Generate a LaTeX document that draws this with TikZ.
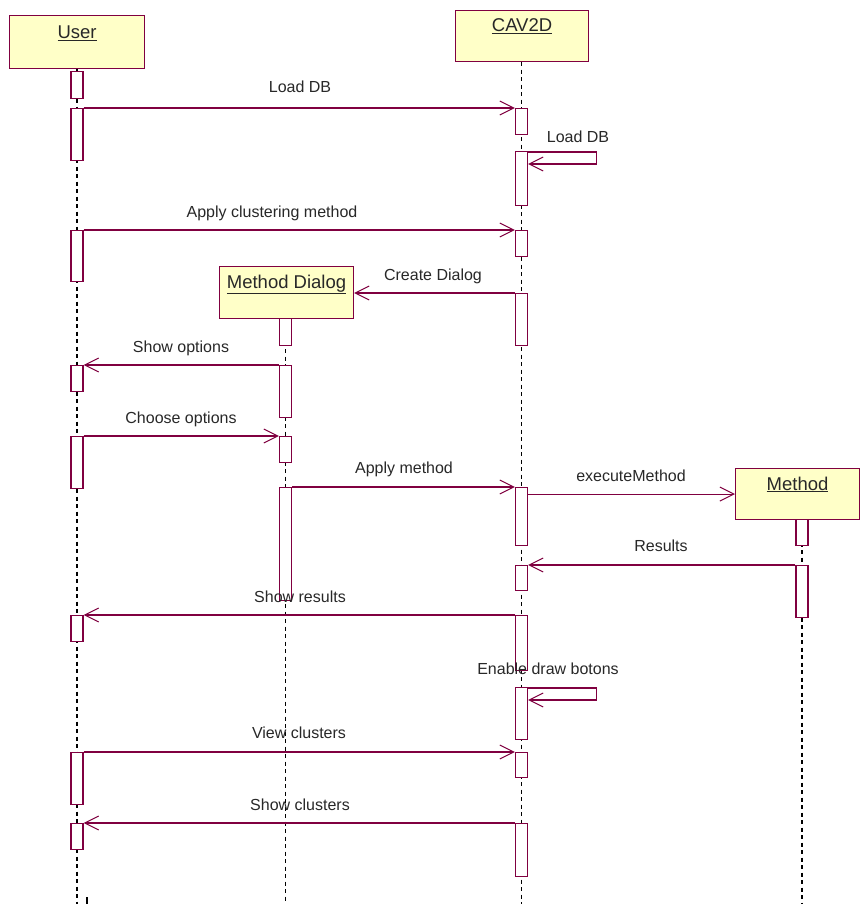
\documentclass[tikz,border=0pt]{standalone}
\usepackage{fontspec}
\setmainfont{Liberation Sans}
\usetikzlibrary{arrows.meta}
\definecolor{umlline}{RGB}{128,0,64}
\definecolor{umlfill}{RGB}{255,255,200}
\definecolor{umltext}{RGB}{40,40,40}
\begin{document}
\begin{tikzpicture}[x=1pt,y=-1pt,
  obj/.style={draw=umlline, fill=umlfill, line width=1.1pt, anchor=north west, inner sep=0pt},
  objlabel/.style={anchor=base, text=umltext, font=\fontsize{18.5}{22}\selectfont, inner sep=0pt},
  act/.style={draw=umlline, fill=white, line width=1.1pt, anchor=north, minimum width=12, inner sep=0pt},
  life/.style={draw=black, line width=1.4pt, dash pattern=on 4pt off 3.5pt},
  msg/.style={draw=umlline, line width=1.1pt, -{Straight Barb[length=14pt,width=14pt,line width=1pt]}},
  lbl/.style={anchor=base, text=umltext, font=\fontsize{16}{19}\selectfont, inner sep=0pt}
]
\useasboundingbox[fill=white] (0,0) rectangle (860,904);

% objects
\node[obj, minimum width=135, minimum height=53] (user) at (9,15) {};
\node[obj, minimum width=133, minimum height=51] (cav) at (455,10) {};
\node[obj, minimum width=134, minimum height=52] (md) at (219,266) {};
\node[obj, minimum width=124, minimum height=51] (meth) at (735,468) {};
\node[objlabel] (userlbl) at ([yshift=-24pt]user.north) {\underline{User}};
\node[objlabel] (cavlbl) at ([yshift=-22pt]cav.north) {\underline{CAV2D}};
\node[objlabel] (mdlbl) at ([yshift=-22pt]md.north) {\underline{Method Dialog}};
\node[objlabel] (methlbl) at ([yshift=-22pt]meth.north) {\underline{Method}};

% lifelines
\coordinate (userend) at (77,904);
\coordinate (cavend) at (521.5,904);
\coordinate (mdend) at (285.5,904);
\coordinate (methend) at (802,904);
\draw[life] (user.south -| userend) -- (userend);
\draw[life] (cav.south -| cavend) -- (cavend);
\draw[life] (md.south -| mdend) -- (mdend);
\draw[life] (meth.south -| methend) -- (methend);
\coordinate (tickA) at (87,897);
\coordinate (tickB) at (87,904);
\draw[black, line width=1.2pt] (tickA) -- (tickB);

% activations: User
\node[act, minimum height=27] (u1) at (77,71) {};
\node[act, minimum height=52] (u2) at (77,108) {};
\node[act, minimum height=51] (u3) at (77,230) {};
\node[act, minimum height=26] (u4) at (77,365) {};
\node[act, minimum height=52] (u5) at (77,436) {};
\node[act, minimum height=26] (u6) at (77,615) {};
\node[act, minimum height=52] (u7) at (77,752) {};
\node[act, minimum height=26] (u8) at (77,823) {};
% activations: CAV2D
\node[act, minimum height=26] (c1) at (521.5,108) {};
\node[act, minimum height=54] (c2) at (521.5,151) {};
\node[act, minimum height=26] (c3) at (521.5,230) {};
\node[act, minimum height=52] (c4) at (521.5,293) {};
\node[act, minimum height=58] (c5) at (521.5,487) {};
\node[act, minimum height=25] (c6) at (521.5,565) {};
\node[act, minimum height=55] (c7) at (521.5,615) {};
\node[act, minimum height=52] (c8) at (521.5,687) {};
\node[act, minimum height=25] (c9) at (521.5,752) {};
\node[act, minimum height=53] (c10) at (521.5,823) {};
% activations: Method Dialog
\node[act, minimum height=27] (m1) at (285.5,318) {};
\node[act, minimum height=52] (m2) at (285.5,365) {};
\node[act, minimum height=26] (m3) at (285.5,436) {};
\node[act, minimum height=113] (m4) at (285.5,487) {};
% activations: Method
\node[act, minimum height=26] (t1) at (802,519) {};
\node[act, minimum height=52] (t2) at (802,565) {};

% messages
\draw[msg] (u2.north east) -- (c1.north west);
\node[lbl] (l1) at (300,93) {Load DB};
\draw[msg] ([yshift=-1pt]c2.north east) -- ++(68,0) |- ([yshift=-13pt]c2.north east);
\node[lbl] (l2) at (578,143) {Load DB};
\draw[msg] (u3.north east) -- (c3.north west);
\node[lbl] (l3) at (272,217) {Apply clustering method};
\draw[msg] (c4.north west) -- (c4.north west -| md.east);
\node[lbl] (l4) at (433,280) {Create Dialog};
\draw[msg] (m2.north west) -- (u4.north east);
\node[lbl] (l5) at (181,352) {Show options};
\draw[msg] (u5.north east) -- (m3.north west);
\node[lbl] (l6) at (181,423) {Choose options};
\draw[msg] (m4.north east) -- (c5.north west);
\node[lbl] (l7) at (404,473) {Apply method};
\draw[msg] (c5.east |- meth.west) -- (meth.west);
\node[lbl] (l8) at (631,481) {executeMethod};
\draw[msg] (t2.north west) -- (c6.north east);
\node[lbl] (l9) at (661,551) {Results};
\draw[msg] (c7.north west) -- (u6.north east);
\node[lbl] (l10) at (300,602) {Show results};
\draw[msg] ([yshift=-1pt]c8.north east) -- ++(68,0) |- ([yshift=-13pt]c8.north east);
\node[lbl] (l11) at (548,674) {Enable draw botons};
\draw[msg] (u7.north east) -- (c9.north west);
\node[lbl] (l12) at (299,738) {View clusters};
\draw[msg] (c10.north west) -- (u8.north east);
\node[lbl] (l13) at (300,810) {Show clusters};
\end{tikzpicture}
\end{document}
